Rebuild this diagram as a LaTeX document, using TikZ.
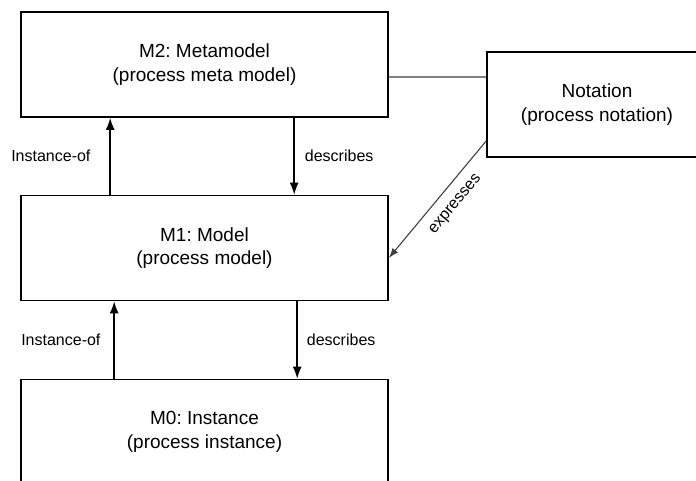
\documentclass[tikz,border=0pt]{standalone}
\usepackage{fontspec}
\setmainfont{Liberation Sans}
\frenchspacing
\usetikzlibrary{arrows.meta}

\begin{document}
\begin{tikzpicture}[>={Latex[length=12pt,width=9pt]},x=1pt,y=-1pt,
        level/.style={draw,line width=1.6pt,minimum width=367pt,minimum height=105pt,
            inner sep=0pt,align=center,font=\fontsize{19}{23.5}\selectfont},
        link/.style={->,line width=1.5pt},
        lbl/.style={font=\fontsize{16}{19}\selectfont,inner sep=0pt}]
        \useasboundingbox (0,0) rectangle (696,480);
        \clip (0,0) rectangle (696,480);
        % the three levels and the notation
        \node [level] (M2) at (204.5,64.5) {M2: Metamodel\\(process meta model)};
        \node [level] (M1) at (204.5,248) {M1: Model\\(process model)};
        \node [level] (M0) at (204.5,432) {M0: Instance\\(process instance)};
        \node [level,minimum width=220pt] (Notation) at (597,104.5) {Notation\\(process notation)};
        % links between the levels
        \draw [link] ([xshift=90pt]M1.north west) --
            node [lbl,midway,left=19pt] {Instance-of} ([xshift=90pt]M2.south west);
        \draw [link] ([xshift=274pt]M2.south west) --
            node [lbl,midway,right=10pt] {describes} ([xshift=274pt]M1.north west);
        \draw [link] ([xshift=94pt]M0.north west) --
            node [lbl,midway,left=13pt] {Instance-of} ([xshift=94pt]M1.south west);
        \draw [link] ([xshift=277pt]M1.south west) --
            node [lbl,midway,right=9pt] {describes} ([xshift=277pt]M0.north west);
        % notation side
        \draw [gray,line width=1.2pt] ([yshift=-12.5pt]M2.east) -- ([yshift=27.5pt]Notation.west);
        \draw [->,>={Latex[length=10pt,width=7pt]},black!75,line width=1.1pt] ([yshift=-36.5pt]Notation.west) --
            node [lbl,text=black,sloped,below,pos=0.45,inner sep=11pt] {expresses} ([yshift=-10pt]M1.east);
\end{tikzpicture}
\end{document}
